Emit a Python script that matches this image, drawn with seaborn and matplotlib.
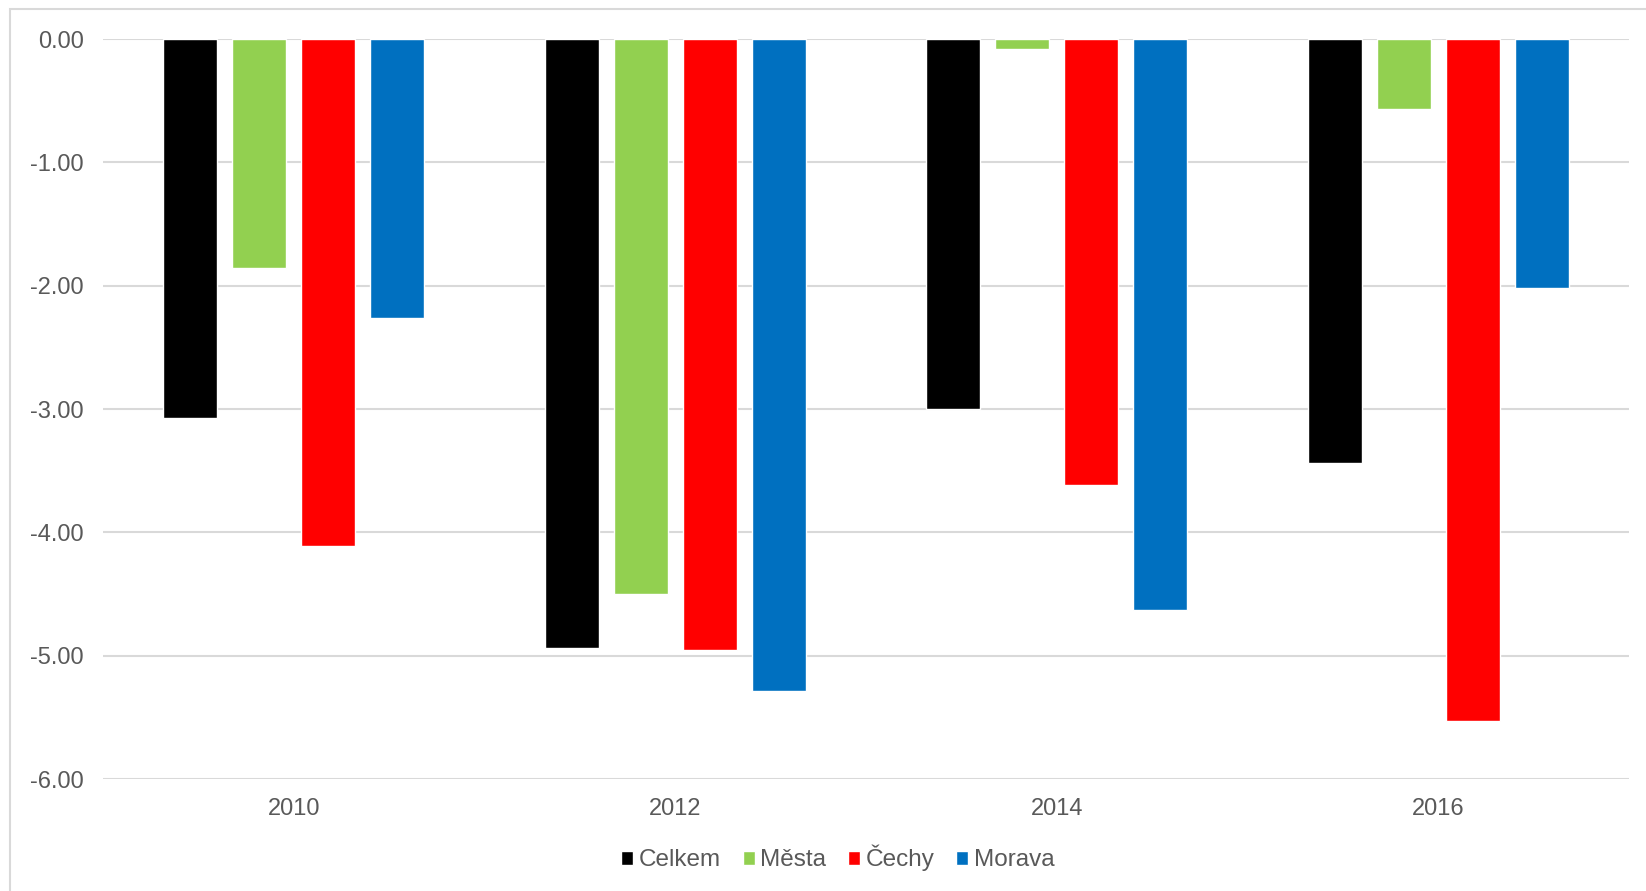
import numpy as np
import matplotlib.pyplot as plt
import pandas as pd
import seaborn as sns
from matplotlib.patches import Rectangle

years = ["2010", "2012", "2014", "2016"]
series = ["Celkem", "Města", "Čechy", "Morava"]
celkem = [-3.07, -4.94, -3.00, -3.44]
mesta = [-1.86, -4.50, -0.08, -0.57]
cechy = [-4.11, -4.95, -3.62, -5.53]
morava = [-2.26, -5.29, -4.63, -2.02]
colors = ["#000000", "#92d050", "#ff0000", "#0070c0"]

rows = []
for name, vals in zip(series, [celkem, mesta, cechy, morava]):
    for y, v in zip(years, vals):
        rows.append({"Rok": y, "Řada": name, "Hodnota": v})
df = pd.DataFrame(rows)

sns.set_style("white")
plt.rcParams['font.family'] = ['Liberation Sans', 'DejaVu Sans']

fig = plt.figure(figsize=(16.46, 8.91), dpi=100)
ax = fig.add_axes([0.0626, 0.1257, 0.9271, 0.8305])

sns.barplot(data=df, x="Rok", y="Hodnota", hue="Řada", hue_order=series,
            order=years, palette=colors, width=0.724, gap=0.22,
            saturation=1, ax=ax, legend=True)

ax.set_ylim(-6, 0)
ax.set_yticks(np.arange(-6, 0.5, 1))
ax.set_yticklabels([f"{v:.2f}" for v in np.arange(-6, 0.5, 1)])
ax.yaxis.grid(True, color="#d9d9d9", linewidth=1.5)
ax.set_axisbelow(True)
for s in ax.spines.values():
    s.set_visible(False)
ax.tick_params(axis="both", length=0, labelsize=17, labelcolor="#595959")
ax.tick_params(axis="y", pad=14)
ax.tick_params(axis="x", pad=14)
ax.set_xlabel(None)
ax.set_ylabel(None)

handles, labels = ax.get_legend_handles_labels()
ax.get_legend().remove()
leg = fig.legend(handles, labels, loc="center", bbox_to_anchor=(0.509, 0.037),
                 ncol=4, frameon=False, fontsize=17.5, handlelength=0.5,
                 handleheight=0.5, handletextpad=0.22, columnspacing=0.9)
for t in leg.get_texts():
    t.set_color("#595959")

fig.patches.append(Rectangle((10 / 1646, -0.02), 1.05, 1 - 9 / 891 + 0.02,
                             transform=fig.transFigure, fill=False,
                             edgecolor="#d9d9d9", linewidth=1.5))

fig.savefig("out.png", dpi=100)
